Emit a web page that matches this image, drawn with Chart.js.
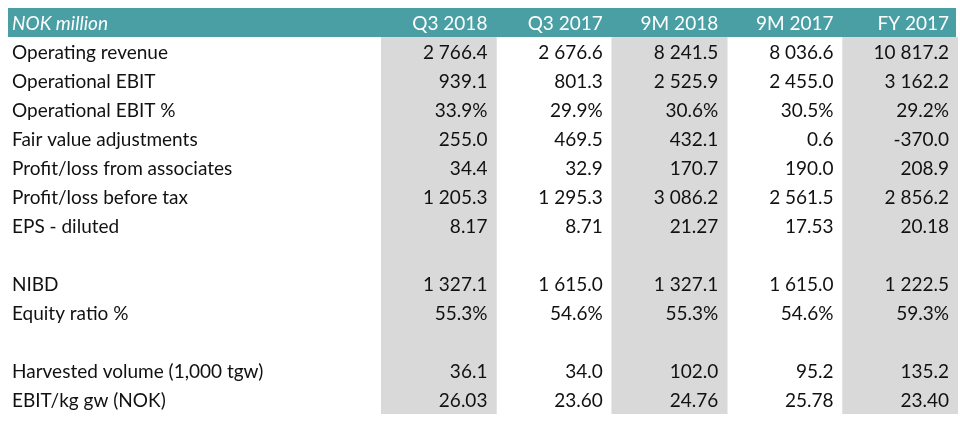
<!DOCTYPE html>
<html><head><meta charset="utf-8">
<script src="https://cdn.jsdelivr.net/npm/chart.js@4"></script>
<style>html,body{margin:0;padding:0;background:#fff}#w{width:960px;height:424px}</style>
</head><body><div id="w"><canvas id="c"></canvas></div>
<script>
const columns = ['Q3 2018','Q3 2017','9M 2018','9M 2017','FY 2017'];
const headerLabel = 'NOK million';
const rowLabels = ['Operating revenue','Operational EBIT','Operational EBIT %','Fair value adjustments','Profit/loss from associates','Profit/loss before tax','EPS - diluted','','NIBD','Equity ratio %','','Harvested volume (1,000 tgw)','EBIT/kg gw (NOK)'];
const q3_2018 = ['2 766.4','939.1','33.9%','255.0','34.4','1 205.3','8.17','','1 327.1','55.3%','','36.1','26.03'];
const q3_2017 = ['2 676.6','801.3','29.9%','469.5','32.9','1 295.3','8.71','','1 615.0','54.6%','','34.0','23.60'];
const m9_2018 = ['8 241.5','2 525.9','30.6%','432.1','170.7','3 086.2','21.27','','1 327.1','55.3%','','102.0','24.76'];
const m9_2017 = ['8 036.6','2 455.0','30.5%','0.6','190.0','2 561.5','17.53','','1 615.0','54.6%','','95.2','25.78'];
const fy_2017 = ['10 817.2','3 162.2','29.2%','-370.0','208.9','2 856.2','20.18','','1 222.5','59.3%','','135.2','23.40'];
const shaded = [true,false,true,false,true];
const values = [q3_2018,q3_2017,m9_2018,m9_2017,fy_2017];
const FONT = '19px Lato, "Open Sans", sans-serif';

const tablePlugin = {
  id:'table',
  beforeDatasetsDraw(chart){
    const ctx=chart.ctx, x=chart.scales.x, y=chart.scales.y;
    ctx.save();
    ctx.fillStyle='#4a9fa5';
    ctx.fillRect(8,8,948,y.getPixelForValue(0)-8);
    ctx.restore();
  },
  afterDatasetsDraw(chart){
    const ctx=chart.ctx, x=chart.scales.x, y=chart.scales.y;
    const half=(x.getPixelForValue(1)-x.getPixelForValue(0))/2;
    const hy=(8+y.getPixelForValue(0))/2+1;
    ctx.save();
    ctx.textBaseline='middle';
    ctx.fillStyle='#fff';
    ctx.font='italic '+FONT; ctx.textAlign='left';
    ctx.fillText(headerLabel,12,hy);
    ctx.font=FONT; ctx.textAlign='right';
    columns.forEach((c,i)=>ctx.fillText(c,x.getPixelForValue(i)+half-9,hy));
    ctx.fillStyle='#111';
    rowLabels.forEach((r,j)=>{
      const py=y.getPixelForValue(j+0.5)+1;
      ctx.textAlign='left'; ctx.fillText(r,12,py);
      ctx.textAlign='right';
      values.forEach((col,i)=>ctx.fillText(col[j],x.getPixelForValue(i)+half-9,py));
    });
    ctx.restore();
  }
};

new Chart(document.getElementById('c'),{
  type:'bar',
  data:{labels:columns,datasets:[{
    data:shaded.map(s=>s?[0,rowLabels.length]:null),
    backgroundColor:'#d9d9d9',barPercentage:1,categoryPercentage:1,borderWidth:0
  }]},
  options:{
    responsive:true,maintainAspectRatio:false,animation:false,
    layout:{padding:{left:381,right:2,top:37,bottom:10}},
    plugins:{legend:{display:false},tooltip:{enabled:false}},
    scales:{
      x:{display:false,offset:true},
      y:{display:false,min:0,max:rowLabels.length,reverse:true}
    }
  },
  plugins:[tablePlugin]
});
</script></body></html>
